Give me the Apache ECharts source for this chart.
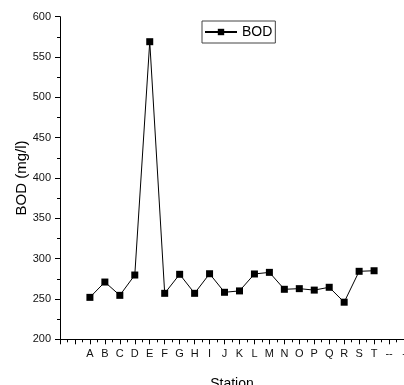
<!DOCTYPE html>
<html>
<head>
<meta charset="utf-8">
<script src="https://cdn.jsdelivr.net/npm/echarts@6/dist/echarts.min.js"></script>
<style>
html,body{margin:0;padding:0;background:#fff;}
#c{width:404px;height:385px;}
</style>
</head>
<body>
<div id="c"></div>
<script>
var stations = ['A','B','C','D','E','F','G','H','I','J','K','L','M','N','O','P','Q','R','S','T'];
var bod = [252, 271, 254.5, 279.7, 569, 257, 280.6, 257, 281.3, 258.3, 260, 281, 283, 262, 262.8, 261, 264.5, 246, 284.3, 285];
var xTickLabels = ['', ''].concat(stations).concat(['--', '-']);
var yTicks = [200, 250, 300, 350, 400, 450, 500, 550, 600];

var chart = echarts.init(document.getElementById('c'), null, {renderer: 'canvas'});
var font = 'Liberation Sans, Arial, sans-serif';
chart.setOption({
  animation: false,
  backgroundColor: '#fff',
  textStyle: {fontFamily: font},
  grid: {left: 60, right: 0, top: 16.7, bottom: 45.7, containLabel: false, outerBoundsMode: 'none'},
  legend: {
    left: 202, top: 21,
    data: ['BOD'],
    itemWidth: 32, itemHeight: 8,
    padding: [4, 3, 4, 2],
    borderColor: '#444', borderWidth: 1, borderRadius: 0,
    textStyle: {fontSize: 14, color: '#000', fontFamily: font}
  },
  xAxis: {
    type: 'value',
    min: -2, max: 21, interval: 1,
    name: 'Station', nameLocation: 'middle', nameGap: 38,
    nameTextStyle: {fontSize: 14, color: '#000', fontFamily: font},
    axisLine: {show: true, onZero: false, lineStyle: {color: '#000', width: 1}},
    axisTick: {show: true, length: 5, lineStyle: {color: '#000'}},
    minorTick: {show: true, splitNumber: 2, length: 3, lineStyle: {color: '#000'}},
    splitLine: {show: false},
    axisLabel: {
      show: true, margin: 9, fontSize: 11, color: '#111', fontFamily: font,
      showMinLabel: true, showMaxLabel: true,
      formatter: function (v) { var i = Math.round(v) + 2; return xTickLabels[i] || ''; }
    }
  },
  yAxis: {
    type: 'value',
    min: yTicks[0], max: yTicks[yTicks.length - 1], interval: 50,
    name: 'BOD (mg/l)', nameLocation: 'middle', nameGap: 31, nameRotate: 90,
    nameMoveOverlap: false,
    nameTextStyle: {fontSize: 15, color: '#000', fontFamily: font},
    axisLine: {show: true, onZero: false, lineStyle: {color: '#000', width: 1}},
    axisTick: {show: true, length: 5, lineStyle: {color: '#000'}},
    minorTick: {show: true, splitNumber: 2, length: 3, lineStyle: {color: '#000'}},
    splitLine: {show: false},
    axisLabel: {margin: 9, fontSize: 11, color: '#111', fontFamily: font}
  },
  series: [{
    name: 'BOD',
    type: 'line',
    data: bod.map(function (v, i) { return [i, v]; }),
    symbol: 'rect',
    symbolSize: 7,
    showAllSymbol: true,
    lineStyle: {color: '#000', width: 1},
    itemStyle: {color: '#000', borderColor: '#000', borderWidth: 0}
  }]
});
</script>
</body>
</html>
